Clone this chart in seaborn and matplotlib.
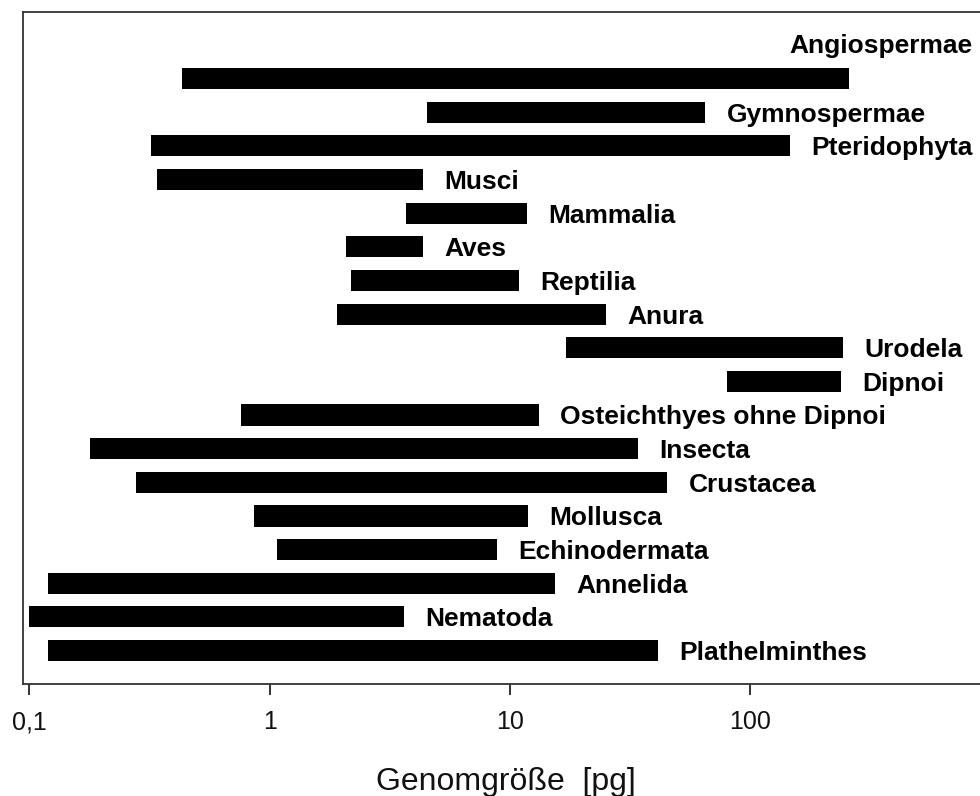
import matplotlib
matplotlib.use("Agg")
import matplotlib.pyplot as plt
import seaborn as sns
import pandas as pd

groups = ["Angiospermae", "Gymnospermae", "Pteridophyta", "Musci", "Mammalia",
          "Aves", "Reptilia", "Anura", "Urodela", "Dipnoi",
          "Osteichthyes ohne Dipnoi", "Insecta", "Crustacea", "Mollusca",
          "Echinodermata", "Annelida", "Nematoda", "Plathelminthes"]
low = [0.43, 4.5, 0.32, 0.34, 3.7, 2.08, 2.18, 1.91, 17.1, 80.0,
       0.76, 0.179, 0.278, 0.86, 1.07, 0.12, 0.10, 0.12]
high = [258, 65, 146, 4.35, 11.8, 4.35, 10.9, 25.1, 243, 239,
        13.2, 34.1, 45.1, 11.9, 8.8, 15.4, 3.63, 41.3]
tick_vals = [0.1, 1, 10, 100]
tick_labels = ["0,1", "1", "10", "100"]
xlabel = "Genomgröße  [pg]"

df = pd.DataFrame({"group": groups, "low": low, "high": high})

sns.set_theme(style="ticks")
plt.rcParams["font.family"] = ["Liberation Sans", "DejaVu Sans"]

W, H = 980, 796
fig = plt.figure(figsize=(W / 100, H / 100), dpi=100)
ax = fig.add_axes([23 / W, (H - 684) / H, 960 / W, 672 / H])

sns.barplot(data=df, x="high", y="group", color="black", orient="h",
            width=0.63, saturation=1, linewidth=0, ax=ax)
# turn each seaborn bar into a floating range bar [low, high]
for patch, lo, hi in zip(ax.patches, df["low"], df["high"]):
    patch.set_x(lo)
    patch.set_width(hi - lo)
    patch.set_edgecolor("none")

ax.set_xscale("log")
ax.set_xlim(0.0941, 931)
ax.set_ylim(17.995, -1.98)
ax.set_xticks(tick_vals)
ax.set_xticklabels(tick_labels)
ax.xaxis.set_minor_locator(matplotlib.ticker.NullLocator())
ax.set_yticks([])
ax.set_ylabel("")
ax.set_xlabel("")
ax.tick_params(axis="x", length=8, width=1.2, pad=11, labelsize=18,
               colors="#111111")

for side in ["left", "bottom", "top", "right"]:
    ax.spines[side].set_visible(True)
    ax.spines[side].set_linewidth(1.3)
    ax.spines[side].set_color("#333333")

for i, (g, hi) in enumerate(zip(df["group"], df["high"])):
    if i == 0:
        ax.annotate(g, xy=(hi, i), xytext=(89, 18.4), textcoords="offset points",
                    ha="right", va="baseline", fontsize=19, fontweight="bold",
                    color="black")
    else:
        ax.annotate(g, xy=(hi, i), xytext=(15.5, -6.8), textcoords="offset points",
                    ha="left", va="baseline", fontsize=19, fontweight="bold",
                    color="black")

fig.text(505.5 / W, (H - 790) / H, xlabel, ha="center", va="baseline",
         fontsize=23, color="#111111")

fig.savefig("out.png", dpi=100)
